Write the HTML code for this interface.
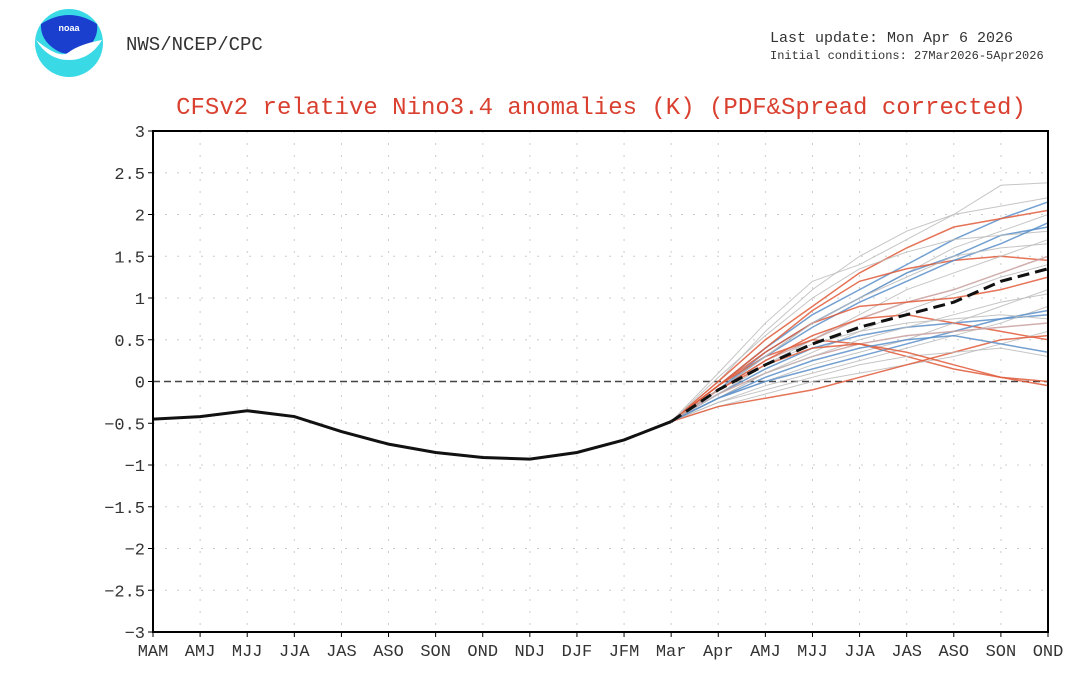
<!DOCTYPE html>
<html><head><meta charset="utf-8"><style>
body{margin:0;background:#fff;width:1080px;height:675px;overflow:hidden;font-family:"Liberation Mono","DejaVu Sans Mono",monospace}
svg{position:absolute;left:0;top:0}
</style></head><body>
<svg id="c" width="1080" height="675">
<g>
<circle cx="69" cy="43" r="34" fill="#39d9e6"/>
<path d="M41,24 Q69,6 97,24 Q99,40 84,50 Q69,58 56,50 Q40,40 41,24Z" fill="#1a3fcf"/>
<path d="M36,40 Q60,60 69,52 Q80,44 102,40 Q90,60 69,60 Q48,60 36,40Z" fill="#fff"/>
<text x="69" y="31" font-size="9" fill="#fff" text-anchor="middle" font-family="Liberation Sans,sans-serif" font-weight="bold">noaa</text>
</g>
<text x="126" y="50" font-size="19" fill="#333">NWS/NCEP/CPC</text>
<text x="770" y="42" font-size="15" fill="#333">Last update: Mon Apr 6 2026</text>
<text x="770" y="59" font-size="12" fill="#333">Initial conditions: 27Mar2026-5Apr2026</text>
<text x="601" y="114" font-size="24" fill="#d9402f" text-anchor="middle">CFSv2 relative Nino3.4 anomalies (K) (PDF&amp;Spread corrected)</text>
<g id="grid"></g><g id="ens"></g><g id="main"></g><g id="axes"></g>
</svg>
<script>
const categories=["MAM","AMJ","MJJ","JJA","JAS","ASO","SON","OND","NDJ","DJF","JFM","Mar","Apr","AMJ","MJJ","JJA","JAS","ASO","SON","OND"];
const yTicks=[3,2.5,2,1.5,1,0.5,0,-0.5,-1,-1.5,-2,-2.5,-3];
const observed=[-0.45,-0.42,-0.35,-0.42,-0.6,-0.75,-0.85,-0.91,-0.93,-0.85,-0.7,-0.48];
const ensMean=[-0.48,-0.1,0.2,0.45,0.65,0.8,0.95,1.2,1.35];
const memberColors=["#bbb","#bbb","#5b8fc9","#e05a3a","#bbb","#5b8fc9","#e05a3a","#bbb","#c9a0a0","#bbb","#5b8fc9","#e05a3a","#bbb","#bbb","#e05a3a","#5b8fc9","#bbb","#c9a0a0","#e05a3a","#bbb","#bbb","#5b8fc9","#e05a3a","#bbb","#bbb","#e05a3a","#5b8fc9","#bbb"];
const members=[
[-0.48,0.1,0.7,1.2,1.4,1.7,2.0,2.35,2.38],
[-0.48,0.0,0.6,1.1,1.5,1.8,2.0,2.1,2.2],
[-0.48,-0.05,0.4,0.8,1.1,1.4,1.7,1.95,2.15],
[-0.48,0.0,0.5,0.9,1.3,1.6,1.85,1.95,2.05],
[-0.48,-0.1,0.3,0.7,1.0,1.3,1.6,1.8,2.0],
[-0.48,-0.1,0.35,0.7,1.0,1.3,1.5,1.75,1.85],
[-0.48,-0.05,0.4,0.85,1.2,1.35,1.45,1.5,1.45],
[-0.48,-0.15,0.2,0.5,0.8,1.1,1.3,1.5,1.7],
[-0.48,-0.1,0.25,0.5,0.75,0.95,1.1,1.3,1.5],
[-0.48,-0.2,0.1,0.35,0.6,0.85,1.05,1.25,1.4],
[-0.48,-0.15,0.15,0.4,0.55,0.65,0.7,0.75,0.8],
[-0.48,-0.1,0.25,0.55,0.75,0.8,0.7,0.6,0.5],
[-0.48,-0.2,0.0,0.2,0.35,0.5,0.7,0.9,1.1],
[-0.48,-0.25,-0.05,0.1,0.25,0.4,0.55,0.7,0.9],
[-0.48,-0.05,0.3,0.5,0.45,0.3,0.15,0.05,0.0],
[-0.48,-0.2,0.0,0.15,0.3,0.45,0.6,0.75,0.85],
[-0.48,-0.3,-0.15,0.0,0.1,0.2,0.3,0.45,0.6],
[-0.48,-0.15,0.1,0.3,0.45,0.55,0.6,0.65,0.7],
[-0.48,-0.3,-0.2,-0.1,0.05,0.2,0.35,0.5,0.55],
[-0.48,-0.25,-0.1,0.05,0.2,0.3,0.35,0.4,0.3],
[-0.48,0.05,0.55,1.0,1.35,1.55,1.7,1.75,1.8],
[-0.48,-0.1,0.3,0.65,0.95,1.2,1.45,1.65,1.9],
[-0.48,-0.05,0.35,0.7,0.9,0.95,1.0,1.1,1.25],
[-0.48,-0.2,0.1,0.3,0.5,0.65,0.8,0.95,1.05],
[-0.48,-0.15,0.2,0.45,0.6,0.7,0.75,0.8,0.75],
[-0.48,-0.1,0.2,0.4,0.45,0.35,0.2,0.05,-0.05],
[-0.48,-0.2,0.05,0.25,0.4,0.5,0.55,0.45,0.35],
[-0.48,-0.1,0.3,0.7,1.0,1.25,1.5,1.6,1.65]
];
const L=153,R=1048,T=131,B=632;
const xS=i=>L+i*(R-L)/(categories.length-1);
const yS=v=>T+(3-v)*(B-T)/6;
const NS="http://www.w3.org/2000/svg";
function mk(tag,attrs,parent){const e=document.createElementNS(NS,tag);for(const k in attrs)e.setAttribute(k,attrs[k]);document.getElementById(parent).appendChild(e);return e;}
yTicks.forEach(v=>{
 const g=mk("line",{x1:L,x2:R,y1:yS(v),y2:yS(v),stroke:v===0?"#444":"#ccc","stroke-dasharray":v===0?"7,4":"2,10","stroke-width":v===0?1.5:1},"grid");
 
 
 const t=mk("text",{x:L-8,y:yS(v)+6,"font-size":17,fill:"#333","text-anchor":"end"},"axes");
 t.textContent=(v<0?"\u2212"+(-v):String(v));
 
 
 const tk=mk("line",{x1:L-5,x2:L,y1:yS(v),y2:yS(v),stroke:"#000"},"axes");
 
 
});
categories.forEach((c,i)=>{
 if(i>0&&i<categories.length-1){const g=mk("line",{x1:xS(i),x2:xS(i),y1:T,y2:B,stroke:"#ccc","stroke-dasharray":"2,10"},"grid");
 
 }
 const t=mk("text",{x:xS(i),y:B+24,"font-size":17,fill:"#333","text-anchor":"middle"},"axes");
 t.textContent=c;
 
 
 const tk=mk("line",{x1:xS(i),x2:xS(i),y1:B,y2:B+5,stroke:"#000"},"axes");
 
 
});
const fr=mk("rect",{x:L,y:T,width:R-L,height:B-T,fill:"none",stroke:"#000","stroke-width":2},"axes");


const off=categories.length-ensMean.length;
members.forEach((m,k)=>{
 const p=mk("polyline",{points:m.map((v,i)=>xS(i+off)+","+yS(v)).join(" "),fill:"none",stroke:memberColors[k%memberColors.length],"stroke-width":memberColors[k]==="#bbb"?1:1.5,opacity:0.85},"ens");
 
 
});
const ob=mk("polyline",{points:observed.map((v,i)=>xS(i)+","+yS(v)).join(" "),fill:"none",stroke:"#111","stroke-width":3},"main");


const em=mk("polyline",{points:ensMean.map((v,i)=>xS(i+off)+","+yS(v)).join(" "),fill:"none",stroke:"#111","stroke-width":3,"stroke-dasharray":"12,6"},"main");


</script>
</body></html>
